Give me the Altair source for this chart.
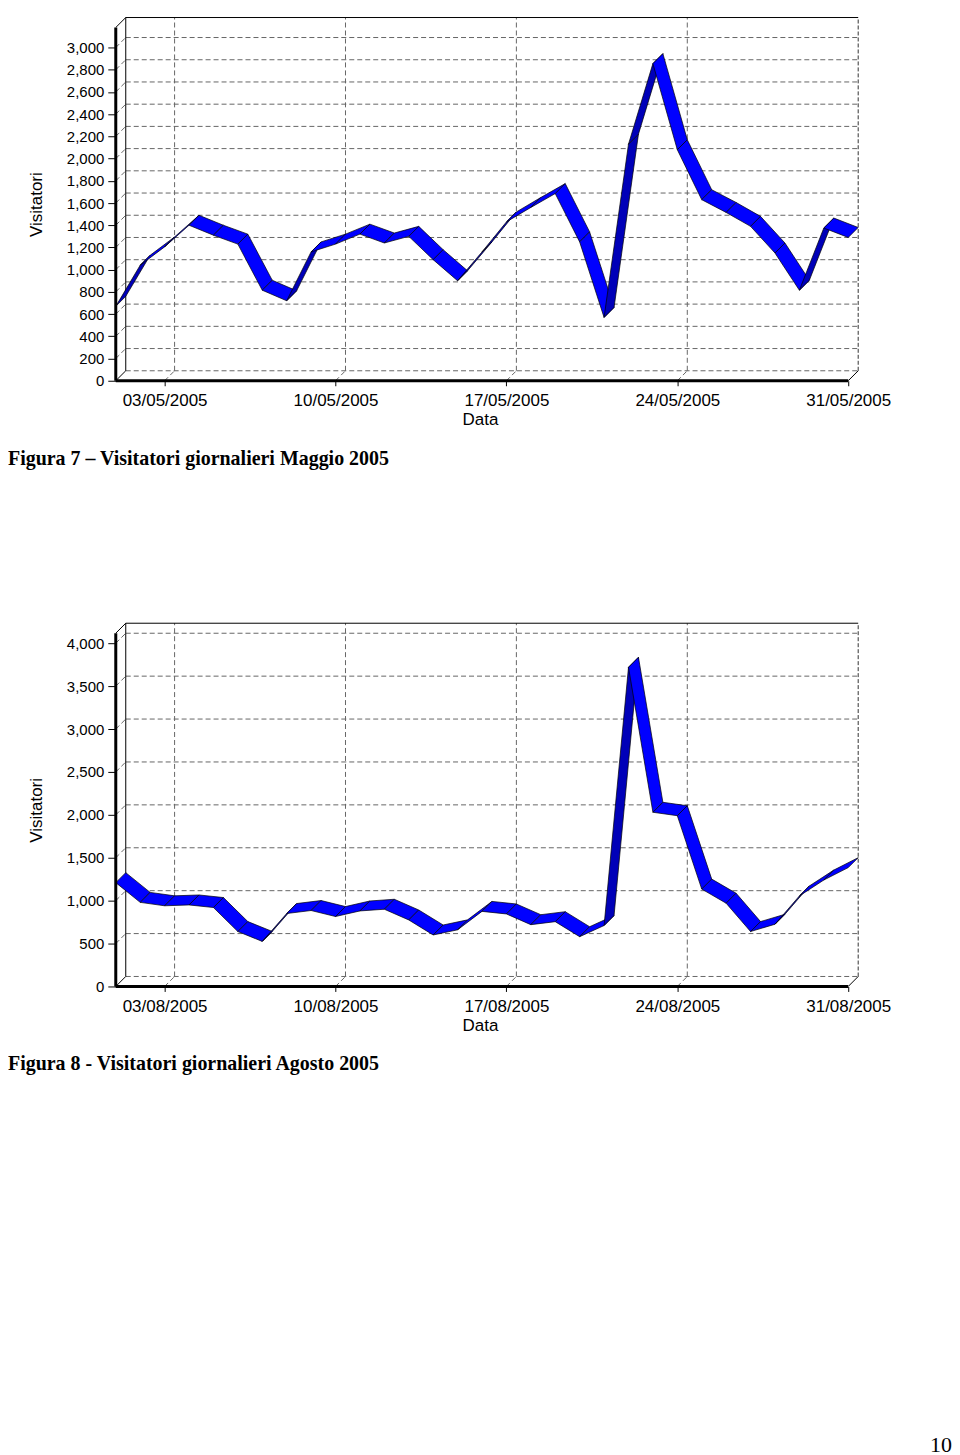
import altair as alt
import pandas as pd

# ---------------- data ----------------
days = [1, 2, 3, 4, 5, 6, 7, 8, 9, 10, 11, 12, 13, 14, 15, 16,
        17, 18, 19, 20, 21, 22, 23, 24, 25, 26, 27, 28, 29, 30, 31]

may_visits = [670, 1040, 1205, 1400, 1310, 1230, 815, 720, 1160, 1230,
              1320, 1240, 1300, 1090, 900, 1160, 1430, 1560, 1685, 1250,
              570, 2130, 2855, 2080, 1630, 1515, 1390, 1150, 815, 1375, 1290]

aug_visits = [1210, 980, 940, 950, 920, 640, 525, 850, 885, 815,
              880, 900, 775, 600, 660, 875, 845, 720, 755, 580,
              710, 3720, 2030, 1990, 1135, 970, 640, 725, 1055, 1240, 1385]

tick_days = [3, 10, 17, 24, 31]
may_tick_labels = ["03/05/2005", "10/05/2005", "17/05/2005", "24/05/2005", "31/05/2005"]
aug_tick_labels = ["03/08/2005", "10/08/2005", "17/08/2005", "24/08/2005", "31/08/2005"]

may_y_ticks = [0, 200, 400, 600, 800, 1000, 1200, 1400, 1600, 1800,
               2000, 2200, 2400, 2600, 2800, 3000]
aug_y_ticks = [0, 500, 1000, 1500, 2000, 2500, 3000, 3500, 4000]

may_y_top = 3270
aug_y_top = 4233

may_caption = "Figura 7 \u2013 Visitatori giornalieri Maggio 2005"
aug_caption = "Figura 8 - Visitatori giornalieri Agosto 2005"
page_number = "10"

# ---------------- layout / style ----------------
PLOT_W = 744
PLOT_H = 364
DEPTH = 10          # 3D depth offset in pixels
SANS = "Liberation Sans"
SERIF = "Liberation Serif"
GRID_COLOR = "#666666"
DASH = [5, 3]


def label_expr(values, labels):
    expr = "''"
    for v, l in reversed(list(zip(values, labels))):
        expr = f"datum.value == {v} ? '{l}' : ({expr})"
    return expr


def panel(values, y_ticks, y_top, tick_labels, caption, page_text=None):
    d0, dn = days[0], days[-1]
    day_px = (PLOT_W - DEPTH) / (dn - d0)
    dx = DEPTH / day_px
    dy = DEPTH * y_top / PLOT_H
    xs = alt.Scale(domain=[d0, dn + dx], nice=False, zero=False)
    ys = alt.Scale(domain=[0, y_top], nice=False, zero=False)

    # ribbon polygons (one parallelogram per segment)
    rows = []
    for i in range(len(days) - 1):
        a, b = days[i], days[i + 1]
        va, vb = values[i], values[i + 1]
        face = "under" if (vb - va) > dy / dx else "top"
        seg = f"s{i:02d}"
        pts = [(a, va), (b, vb), (b + dx, vb + dy), (a + dx, va + dy)]
        for k, (px, py) in enumerate(pts):
            rows.append({"seg": seg, "ord": k, "x": px, "y": py, "face": face})
    ribbon_df = pd.DataFrame(rows)

    # back plane dashed grid
    gh = pd.DataFrame({"x": [d0 + dx] * len(y_ticks), "x2": [dn + dx] * len(y_ticks),
                       "y": [v + dy for v in y_ticks], "y2": [v + dy for v in y_ticks]})
    vd = [d for d in tick_days if d != dn]
    gv = pd.DataFrame({"x": [d + dx for d in vd], "x2": [d + dx for d in vd],
                       "y": [dy] * len(vd), "y2": [y_top] * len(vd)})
    # depth ticks on wall and floor
    wall = pd.DataFrame({"x": [d0] * (len(y_ticks) - 1), "x2": [d0 + dx] * (len(y_ticks) - 1),
                         "y": y_ticks[1:], "y2": [v + dy for v in y_ticks[1:]]})
    floor = pd.DataFrame({"x": vd, "x2": [d + dx for d in vd],
                          "y": [0] * len(vd), "y2": [dy] * len(vd)})
    grid_df = pd.concat([gh, gv, wall, floor], ignore_index=True)

    # thin solid frame lines
    frame_df = pd.DataFrame([
        {"x": d0 + dx, "x2": dn + dx, "y": y_top, "y2": y_top},
        {"x": d0 + dx, "x2": d0 + dx, "y": dy, "y2": y_top},
        {"x": d0, "x2": d0 + dx, "y": y_top - dy, "y2": y_top},
        {"x": d0, "x2": d0 + dx, "y": 0, "y2": dy},
        {"x": dn, "x2": dn + dx, "y": 0, "y2": dy},
    ])
    right_df = pd.DataFrame([{"x": dn + dx, "x2": dn + dx, "y": dy, "y2": y_top}])
    axes_df = pd.DataFrame([
        {"x": d0, "x2": d0, "y": 0, "y2": y_top - dy},
        {"x": d0, "x2": dn, "y": 0, "y2": 0},
    ])

    x_axis = alt.Axis(values=tick_days, labelExpr=label_expr(tick_days, tick_labels),
                      title="Data", grid=False, domain=False, tickSize=5,
                      tickColor="black", labelFont=SANS, labelFontSize=17,
                      labelColor="black", labelPadding=7, labelFlush=False,
                      labelOverlap=False, titleFont=SANS, titleFontSize=17,
                      titleFontWeight="normal", titleColor="black",
                      titleX=365, titleY=39, titleBaseline="middle",
                      titleAlign="center")
    y_axis = alt.Axis(values=y_ticks, format=",.0f", title="Visitatori", grid=False,
                      domain=False, tickSize=8, tickColor="black", labelFont=SANS,
                      labelFontSize=15, labelColor="black", labelPadding=4,
                      labelOverlap=False, titleFont=SANS, titleFontSize=17,
                      titleFontWeight="normal", titleColor="black",
                      titleX=-79, titleY=(PLOT_H + DEPTH) / 2, titleAngle=270,
                      titleBaseline="middle", titleAlign="center")

    def rules(df, **mk):
        return alt.Chart(df).mark_rule(**mk).encode(
            x=alt.X("x:Q", scale=xs, axis=x_axis),
            x2="x2:Q",
            y=alt.Y("y:Q", scale=ys, axis=y_axis),
            y2="y2:Q",
        )

    grid = rules(grid_df, color=GRID_COLOR, strokeWidth=1, strokeDash=DASH)
    right = rules(right_df, color="#333333", strokeWidth=1, strokeDash=[4, 2])
    frame = rules(frame_df, color="black", strokeWidth=1)

    ribbon = alt.Chart(ribbon_df).mark_line(
        interpolate="linear-closed", filled=True, stroke="black", strokeWidth=0.7
    ).encode(
        x=alt.X("x:Q", scale=xs, axis=x_axis),
        y=alt.Y("y:Q", scale=ys, axis=y_axis),
        detail="seg:N",
        order="ord:Q",
        color=alt.Color("face:N", scale=alt.Scale(domain=["top", "under"],
                                                   range=["#0000ff", "#0000b8"]),
                        legend=None),
    )

    front = rules(axes_df, color="black", strokeWidth=3)

    cap = alt.Chart(pd.DataFrame({"t": [caption]})).mark_text(
        align="left", baseline="middle", font=SERIF, fontWeight="bold",
        fontSize=20, color="black"
    ).encode(text="t:N", x=alt.value(-108), y=alt.value(442))

    layers = [grid, right, frame, ribbon, front, cap]
    if page_text is not None:
        pn = alt.Chart(pd.DataFrame({"t": [page_text]})).mark_text(
            align="right", baseline="middle", font=SERIF, fontSize=22, color="black"
        ).encode(text="t:N", x=alt.value(838), y=alt.value(824))
        layers.append(pn)

    return alt.layer(*layers).properties(width=PLOT_W, height=PLOT_H)


c1 = panel(may_visits, may_y_ticks, may_y_top, may_tick_labels, may_caption)
c2 = panel(aug_visits, aug_y_ticks, aug_y_top, aug_tick_labels, aug_caption, page_number)

chart = alt.vconcat(c1, c2, spacing=243, bounds="flush").properties(
    padding={"left": 0, "top": 7, "right": 0, "bottom": 0},
    background="white",
).configure_view(stroke=None)

chart.save("out.html", embed_options={"renderer": "svg", "actions": False})
